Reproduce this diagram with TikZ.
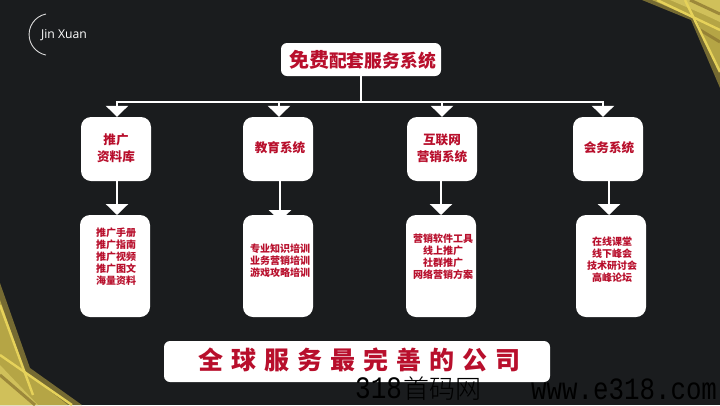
\documentclass[tikz,border=0pt]{standalone}
\usepackage{graphicx}
\usepackage{fontspec}
\usetikzlibrary{arrows.meta,calc}
\newfontfamily\cjk{Noto Sans CJK SC}
\newfontfamily\wmcjk{Noto Sans CJK SC Light}
\newfontfamily\wmlat{Liberation Mono}
\newfontfamily\logofont{Open Sans}
\definecolor{bg}{HTML}{1A1C1E}
\definecolor{crim}{HTML}{B80F2C}
\definecolor{golddark}{HTML}{756A32}
\definecolor{goldmid}{HTML}{B5A545}
\definecolor{goldlight}{HTML}{D0C05A}
\definecolor{goldbright}{HTML}{E6D25A}
\definecolor{goldbrown}{HTML}{8F7A32}
\tikzset{
  card/.style={fill=white,rounded corners=10pt,minimum width=70pt,inner sep=0pt},
  upcard/.style={card,minimum height=64pt},
  lowcard/.style={card,minimum height=102pt},
  uptext/.style={text=crim,font=\cjk\bfseries\fontsize{12.6}{17}\selectfont,align=center,inner sep=0pt},
  lowtext/.style={text=crim,font=\cjk\bfseries\fontsize{10}{12.1}\selectfont,align=center,inner sep=0pt},
  wire/.style={draw=white,line width=2.5pt},
  feed/.style={wire,-{Triangle[width=22pt,length=11pt,fill=white]}},
  wmark/.style={text=black,inner sep=0pt,anchor=west},
  ray/.style={line width=2.4pt,goldbright},
  rayb/.style={line width=3pt,goldbrown,opacity=.8}
}
\begin{document}
\begin{tikzpicture}[x=1pt,y=-1pt]
\useasboundingbox (0,0) rectangle (720,405);
\fill[bg] (0,0) rectangle (720,405);
% gold corner, top right
\begin{scope}
\clip (0,0) rectangle (720,405);
\fill[golddark] (642,0) -- (691,20) -- (720,88) -- (720,0) -- cycle;
\fill[goldmid] (652,0) -- (696,19) -- (720,72) -- (720,0) -- cycle;
\fill[goldlight] (670,0) -- (705,15) -- (720,22) -- (720,0) -- cycle;
\draw[rayb] (690,0) -- (720,14);
\draw[rayb] (700,30) -- (720,42);
\draw[ray] (657,0) -- (720,30);
\draw[ray] (685,0) -- (720,72);
% gold corner, bottom left
\fill[golddark] (0,283) -- (30,368) -- (82,405) -- (0,405) -- cycle;
\fill[goldmid] (0,300) -- (25,372) -- (68,405) -- (0,405) -- cycle;
\fill[goldlight] (0,365) -- (38,405) -- (0,405) -- cycle;
\draw[rayb] (0,375) -- (35,405);
\draw[ray] (0,305) -- (33,395);
\draw[ray] (0,355) -- (72,405);
\end{scope}
% logo
\draw[white!85!black,line width=.9pt] (46,14) arc[start angle=259,end angle=101,radius=20.9];
\node[text=white,inner sep=0pt,font=\logofont\fontsize{12.2}{14}\selectfont] (logo) at (64,35) {Jin Xuan};
% nodes
\node[fill=white,rounded corners=6pt,minimum width=160pt,minimum height=33pt,inner sep=0pt] (top) at (361,59.5) {};
\node[inner sep=0pt,text=crim] (toptext) at (362.5,60) {\cjk\bfseries\fontsize{20}{20}\selectfont 免费\fontsize{17.8}{20}\selectfont 配套服务系统};
\node[upcard] (a1) at (116,149) {};
\node[upcard] (a2) at (278,149) {};
\node[upcard] (a3) at (442,149) {};
\node[upcard] (a4) at (608,149) {};
\coordinate (hub) at (361,102);
\coordinate (j1) at (117,102);
\coordinate (j2) at (279,102);
\coordinate (j3) at (442,102);
\coordinate (j4) at (603,102);
\coordinate (k1) at (117,181);
\coordinate (k2) at (280,181);
\coordinate (k3) at (441,181);
\coordinate (k4) at (609,181);
\draw[wire] (top.south) -- (hub);
\draw[wire] ($(j1)+(-1.25,0)$) -- ($(j4)+(1.25,0)$);
\foreach \j/\a in {j1/a1,j2/a2,j3/a3,j4/a4}{
  \draw[feed] (\j) -- (\j |- \a.north);
}
\coordinate (t2) at (280,221);
\draw[feed] (k1) -- (117,215);
\draw[feed] (k2) -- (t2);
\draw[feed] (k3) -- (441,215);
\draw[feed] (k4) -- (609,215);
\node[lowcard] (b1) at (115,266) {};
\node[lowcard] (b2) at (278,266) {};
\node[lowcard] (b3) at (441,266) {};
\node[lowcard] (b4) at (611,266) {};
\node[uptext] (a1t) at (116,148) {推广\\资料库};
\node[uptext] (a2t) at (280,148) {教育系统};
\node[uptext] (a3t) at (442,148) {互联网\\营销系统};
\node[uptext] (a4t) at (609,148) {会务系统};
\node[lowtext] (b1t) at (116,256.5) {推广手册\\推广指南\\推广视频\\推广图文\\海量资料};
\node[lowtext] (b2t) at (280,261) {专业知识培训\\业务营销培训\\游戏攻略培训};
\node[lowtext] (b3t) at (443,257) {营销软件工具\\线上推广\\社群推广\\网络营销方案};
\node[lowtext] (b4t) at (612,260) {在线课堂\\线下峰会\\技术研讨会\\高峰论坛};
% banner
\node[fill=white,rounded corners=6pt,minimum width=386pt,minimum height=41pt,inner sep=0pt] (bar) at (357,361.5) {};
\node[inner sep=0pt,text=crim] (bartext) at (359,360) {\cjk\bfseries\addfontfeature{LetterSpace=32}\fontsize{25}{25}\selectfont 全球服务最完善的公司};
% watermark
\node[wmark] (wm1) at (355,389) {\scalebox{1}[1.2]{\wmlat\fontsize{26}{26}\selectfont 318}\hspace{1pt}\wmcjk\fontsize{26}{26}\selectfont 首码网};
\node[wmark] (wm2) at (531,389) {\scalebox{1}[1.2]{\wmlat\fontsize{25.8}{25.8}\selectfont www.e318.com}};
\end{tikzpicture}
\end{document}
